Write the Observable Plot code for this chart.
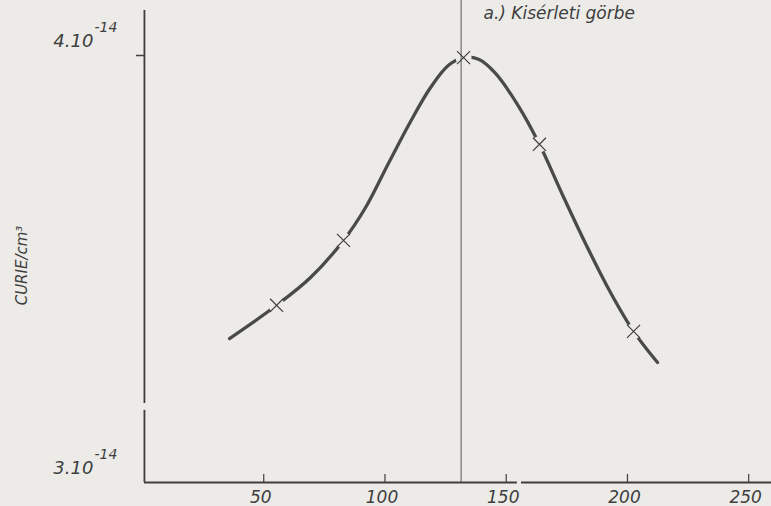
<!DOCTYPE html>
<html><head><meta charset="utf-8">
<script src="https://cdn.jsdelivr.net/npm/d3@7"></script>
<script src="https://cdn.jsdelivr.net/npm/@observablehq/plot@0.6"></script>
<style>html,body{margin:0;padding:0;background:#ecebe8;} svg{display:block}</style>
</head><body><div id="chart"></div>
<script>
// Curve values, y in units of 1e-14 Curie/cm3
const curveX = [35.9, 55.3, 69.3, 82.9, 92.0, 101.4, 110.5, 118.8, 126.2, 132.4, 138.6, 145.6, 155.1, 163.7, 173.2, 183.1, 193.0, 202.5, 212.4];
const curveY = [3.337, 3.415, 3.480, 3.567, 3.644, 3.747, 3.845, 3.925, 3.977, 3.995, 3.991, 3.958, 3.881, 3.792, 3.674, 3.555, 3.445, 3.354, 3.281];
// Measured points (crosses)
const markX = [55.3, 82.9, 132.4, 163.7, 202.5];
const markY = [3.415, 3.567, 3.995, 3.792, 3.354];
const peakX = 131.4;
const xTicks = [50, 100, 150, 200, 250];
const xTickLabels = ["50", "100", "150", "200", "250"];
const yTicks = [3, 4];
const yTickLabels = ["3.10", "4.10"];
const yTickExp = "-14";
const title = "a.) Kisérleti görbe";
const yLabel = "CURIE/cm³";

const bg = "#ecebe8";
const ink = "#3e3e3e";
const font = "DejaVu Sans";

const curve = curveX.map((x, i) => ({x, y: curveY[i]}));
const marks = markX.map((x, i) => ({x, y: markY[i]}));

const chart = Plot.plot({
  width: 771, height: 506,
  marginLeft: 142, marginRight: 0, marginTop: 10, marginBottom: 24,
  x: {domain: [0, 259.4], axis: null},
  y: {domain: [3, 4.1054], axis: null},
  style: {background: "transparent", fontFamily: font},
  marks: [
    Plot.ruleY([3], {x1: 0.8, x2: 154.6, stroke: ink, strokeWidth: 1.8}),
    Plot.ruleY([3], {x1: 156.3, x2: 259.4, stroke: ink, strokeWidth: 1.8}),
    Plot.ruleX([0.8], {y1: 3, y2: 3.169, stroke: ink, strokeWidth: 1.8}),
    Plot.ruleX([0.8], {y1: 3.185, y2: 4.1054, stroke: ink, strokeWidth: 1.8}),
    Plot.ruleX(xTicks, {y1: 3, y2: 3.019, stroke: ink, strokeWidth: 1.2}),
    Plot.ruleY([4], {x1: -2.5, x2: 0.8, stroke: ink, strokeWidth: 1.5}),
    Plot.line(curve, {x: "x", y: "y", curve: "catmull-rom", stroke: "#4a4a4a", strokeWidth: 3.3, strokeLinecap: "round"}),
    Plot.dot(marks, {x: "x", y: "y", r: 8, fill: bg, fillOpacity: 1, stroke: "none"}),
    Plot.ruleX([peakX], {y1: 3, y2: 4.129, stroke: "#555", strokeWidth: 1}),
    Plot.dot(marks, {x: "x", y: "y", symbol: "times", r: 6, stroke: ink, strokeWidth: 1.2}),
    Plot.text(xTicks, {x: d => d, y: 3, dy: 15, text: (d, i) => xTickLabels[i], fontSize: 17, fontStyle: "italic", fill: ink, dx: -3}),
    Plot.text(yTicks, {x: 0.8, y: d => d, text: (d, i) => yTickLabels[i], dx: -51, dy: -14, textAnchor: "end", fontSize: 18, fontStyle: "italic", fill: ink}),
    Plot.text(yTicks, {x: 0.8, y: d => d, text: () => yTickExp, dx: -50, dy: -28, textAnchor: "start", fontSize: 14, fontStyle: "italic", fill: ink}),
    Plot.text([title], {frameAnchor: "top-left", dx: 341, dy: -4, textAnchor: "start", fontSize: 17, fontStyle: "italic", fill: ink}),
    Plot.text([yLabel], {frameAnchor: "left", dx: -120, dy: 19, rotate: -90, textAnchor: "middle", fontSize: 15, fontStyle: "italic", fill: ink})
  ]
});
document.getElementById("chart").appendChild(chart);
</script></body></html>
